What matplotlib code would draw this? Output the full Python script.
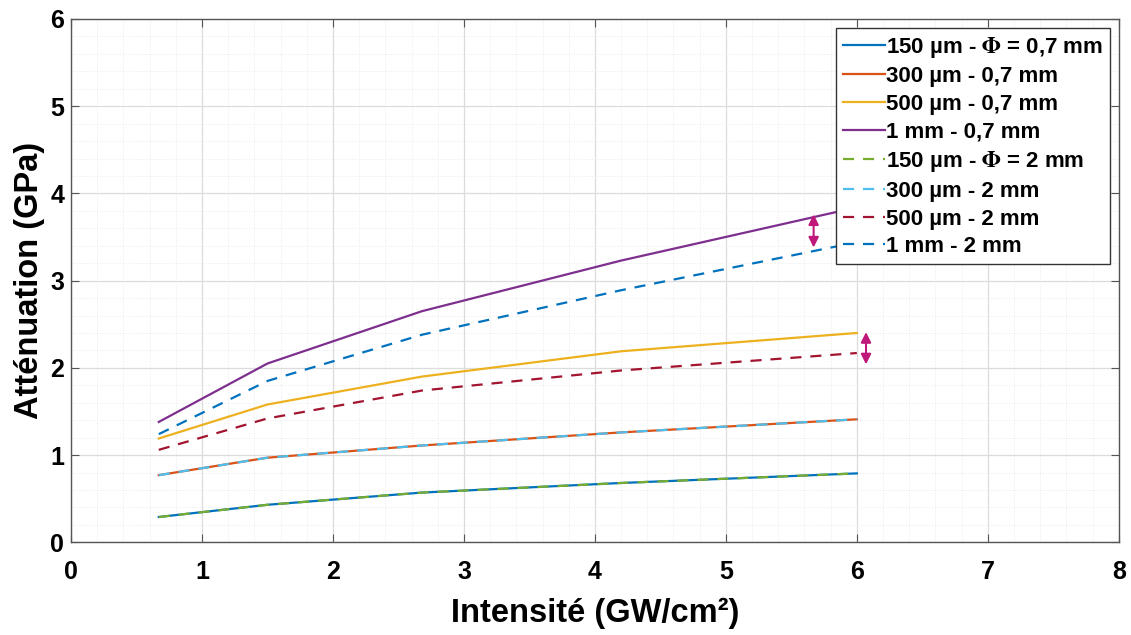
import matplotlib
matplotlib.use('Agg')
from matplotlib import pyplot as plt
from matplotlib.ticker import MultipleLocator

plt.rcParams['font.family'] = ['Liberation Sans', 'DejaVu Sans']
plt.rcParams['font.weight'] = 'bold'
plt.rcParams['mathtext.fontset'] = 'stix'

# intensities (GW/cm2)
intensite = [0.67, 1.5, 2.68, 4.2, 6.0]

# attenuation (GPa), diameter 0.7 mm
att_150_07 = [0.29, 0.43, 0.57, 0.68, 0.79]
att_300_07 = [0.77, 0.97, 1.11, 1.26, 1.41]
att_500_07 = [1.19, 1.58, 1.90, 2.19, 2.40]
att_1mm_07 = [1.38, 2.05, 2.65, 3.23, 3.84]

# attenuation (GPa), diameter 2 mm
att_150_2 = [0.29, 0.43, 0.57, 0.68, 0.79]
att_300_2 = [0.77, 0.97, 1.11, 1.26, 1.41]
att_500_2 = [1.06, 1.42, 1.74, 1.97, 2.17]
att_1mm_2 = [1.24, 1.85, 2.38, 2.89, 3.44]

labels = ['150 µm - $\\Phi$ = 0,7 mm', '300 µm - 0,7 mm', '500 µm - 0,7 mm', '1 mm - 0,7 mm',
          '150 µm - $\\Phi$ = 2 mm', '300 µm - 2 mm', '500 µm - 2 mm', '1 mm - 2 mm']
colors = ['#0072BD', '#D95319', '#EDB120', '#7E2F8E',
          '#77AC30', '#4DBEEE', '#A2142F', '#0072BD']

# double arrows showing the gap between diameters: (x, y_top, y_bottom)
fleches = [(5.67, 3.76, 3.38), (6.07, 2.41, 2.04)]

fig = plt.figure(figsize=(11.31, 6.35), dpi=100)
ax = fig.add_axes([0.0628, 0.1460, 0.9264, 0.8241])

series = [att_150_07, att_300_07, att_500_07, att_1mm_07,
          att_150_2, att_300_2, att_500_2, att_1mm_2]
for i, (y, lab, c) in enumerate(zip(series, labels, colors)):
    ls = '-' if i < 4 else (0, (5, 4))
    ax.plot(intensite, y, linestyle=ls, color=c, lw=1.6, label=lab)

for x, y1, y2 in fleches:
    ax.annotate('', xy=(x, y2), xytext=(x, y1),
                arrowprops=dict(arrowstyle='<|-|>', color='#C0187A', lw=1.5,
                                mutation_scale=15, shrinkA=0, shrinkB=0))

ax.set_xlim(0, 8)
ax.set_ylim(0, 6)
ax.xaxis.set_major_locator(MultipleLocator(1))
ax.yaxis.set_major_locator(MultipleLocator(1))
ax.xaxis.set_minor_locator(MultipleLocator(0.2))
ax.yaxis.set_minor_locator(MultipleLocator(0.2))
ax.grid(which='major', color='#dcdcdc', lw=0.9)
ax.grid(which='minor', color='#ebebeb', lw=0.7, ls=':')
ax.tick_params(which='major', direction='in', length=6, color='#555555',
               labelsize=18, top=True, right=True)
ax.tick_params(axis='x', pad=13)
ax.tick_params(axis='y', pad=5)
ax.tick_params(which='minor', length=0)
for s in ax.spines.values():
    s.set_color('#555555')
    s.set_linewidth(1.0)
for t in ax.get_xticklabels() + ax.get_yticklabels():
    t.set_fontweight('bold')

ax.set_xlabel('Intensité (GW/cm²)', fontsize=23.5, fontweight='bold', labelpad=10)
ax.set_ylabel('Atténuation (GPa)', fontsize=23.5, fontweight='bold', labelpad=4)

leg = ax.legend(loc='upper right', prop={'weight': 'bold', 'size': 16},
                handlelength=1.9, handletextpad=0.05, borderpad=0.3, labelspacing=0.3,
                fancybox=False, framealpha=1, borderaxespad=0.4)
leg.get_frame().set_edgecolor('#333333')
leg.get_frame().set_linewidth(1.0)

plt.savefig('out.png', dpi=100)
